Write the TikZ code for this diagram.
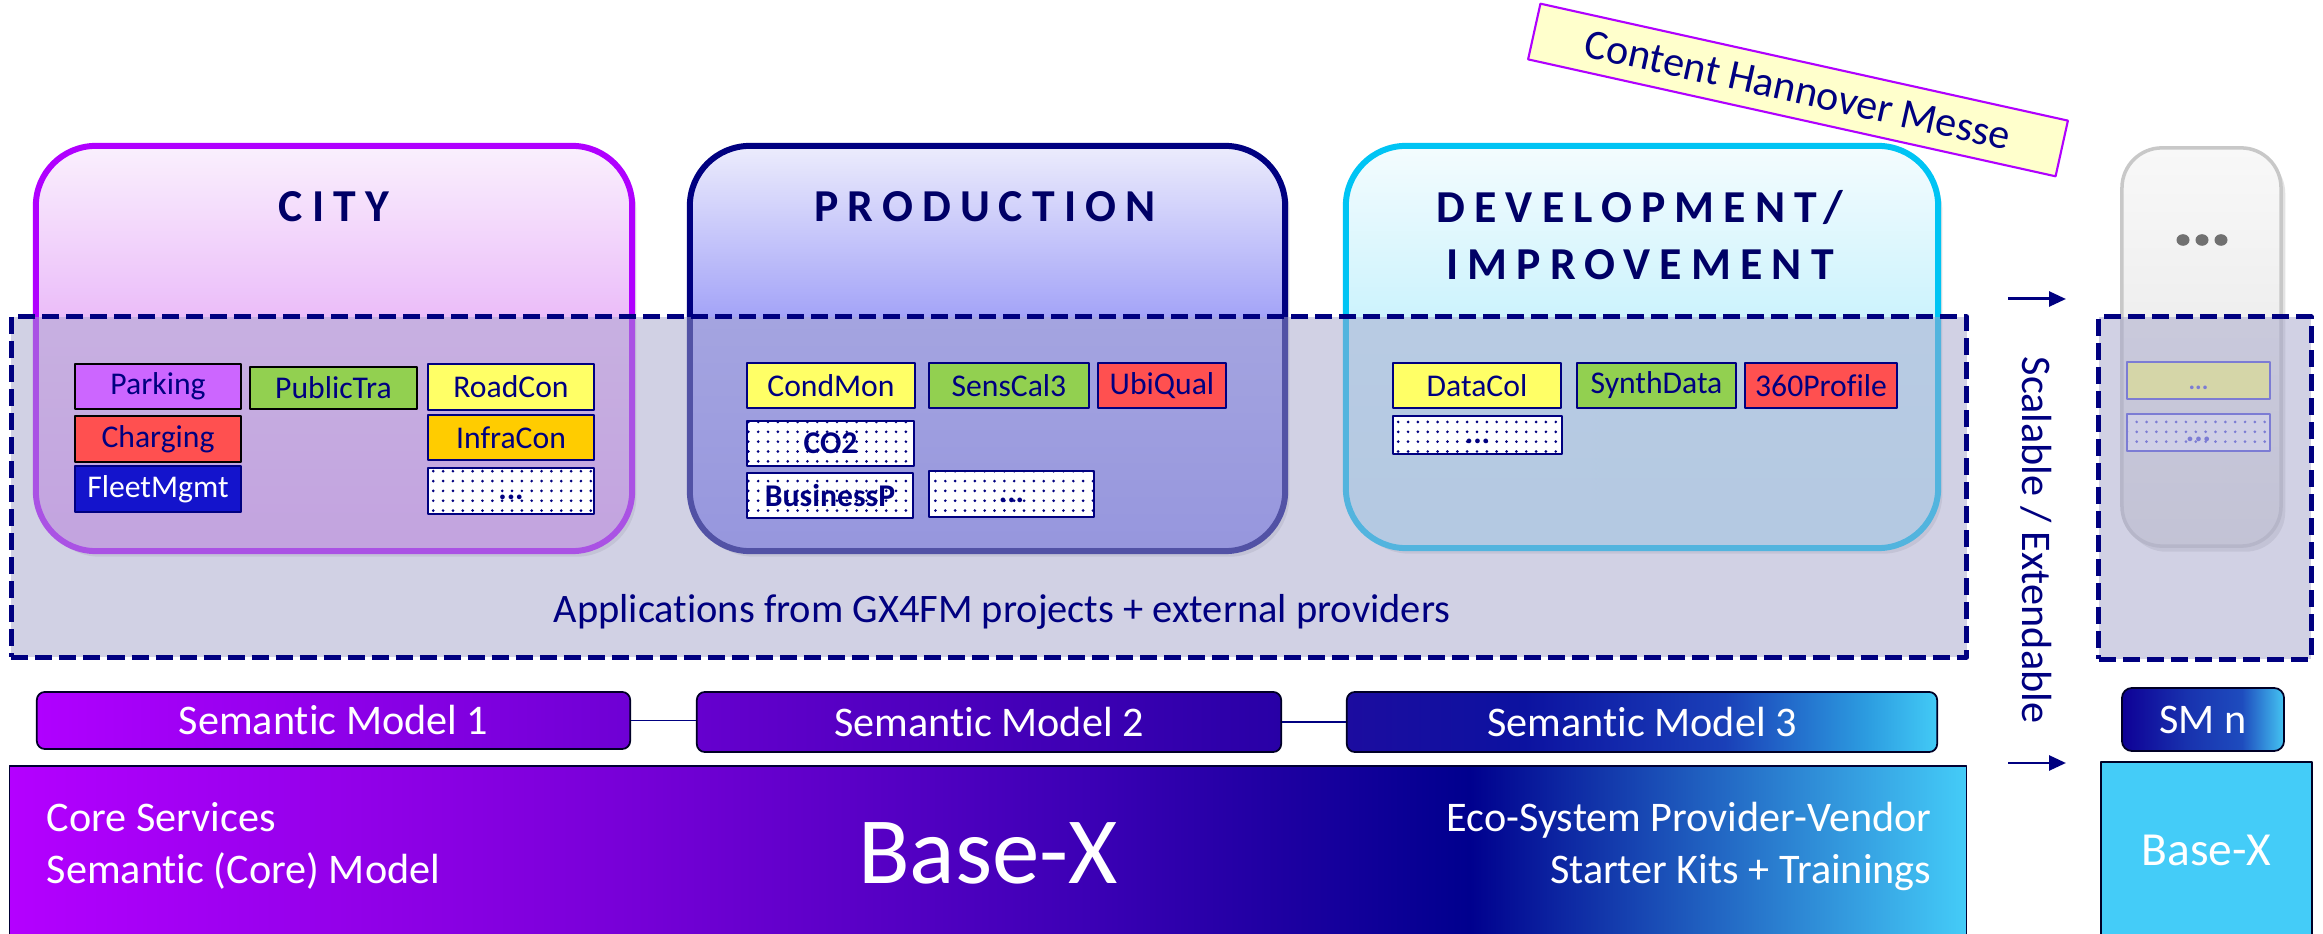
\documentclass[tikz,border=0pt]{standalone}
\usepackage{fontspec}
\setmainfont{Carlito}[Ligatures=NoCommon]
\newfontfamily\titlefont[LetterSpace=20,Ligatures=NoCommon]{Carlito}
\usetikzlibrary{arrows.meta,patterns.meta,shadows}
\definecolor{navy}{HTML}{000080}
\definecolor{titlenavy}{HTML}{000066}
\definecolor{citypurple}{HTML}{B000FF}
\definecolor{cityTop}{HTML}{FAF0FD}
\definecolor{cityMid}{HTML}{EBBDF9}
\definecolor{cityBot}{HTML}{E2A2F6}
\definecolor{prodTop}{HTML}{ECECFC}
\definecolor{prodMid}{HTML}{A4A4F8}
\definecolor{prodBot}{HTML}{8888F2}
\definecolor{devcyan}{HTML}{00C4F4}
\definecolor{devTop}{HTML}{F4FCFE}
\definecolor{devMid}{HTML}{CDF3FD}
\definecolor{devBot}{HTML}{C4EEFC}
\definecolor{greyTop}{HTML}{F8F8F8}
\definecolor{greyBot}{HTML}{E2E2E2}
\definecolor{greyline}{HTML}{C8C8C8}
\definecolor{dotgrey}{HTML}{707070}
\definecolor{overlay}{HTML}{A5A5CA}
\definecolor{appviolet}{HTML}{CC66FF}
\definecolor{appgreen}{HTML}{92D050}
\definecolor{appyellow}{HTML}{FFFF66}
\definecolor{appred}{HTML}{FF5050}
\definecolor{appamber}{HTML}{FFCC00}
\definecolor{appblue}{HTML}{1414CC}
\definecolor{fadeyellow}{HTML}{D5D6A8}
\definecolor{fadeblue}{HTML}{7C7CD4}
\definecolor{fadefill}{HTML}{D0D0E6}
\definecolor{hmyellow}{HTML}{FFFFCC}
\definecolor{bxlight}{HTML}{44CCF8}
\definecolor{bxA}{HTML}{B400FF}
\definecolor{bxB}{HTML}{7800D8}
\definecolor{bxC}{HTML}{3A00B4}
\definecolor{bxD}{HTML}{00008E}
\definecolor{smAL}{HTML}{B000FF}
\definecolor{smAR}{HTML}{6E00D4}
\definecolor{smBL}{HTML}{6600CE}
\definecolor{smBR}{HTML}{2800A6}
\definecolor{smCa}{HTML}{1C0CA0}
\definecolor{smCb}{HTML}{0C12A0}
\definecolor{smCc}{HTML}{1A40B8}
\definecolor{smCd}{HTML}{2C9CE0}
\definecolor{smCe}{HTML}{42CAF6}
\definecolor{smNa}{HTML}{0E0096}
\definecolor{smNb}{HTML}{1832AE}
\definecolor{smNc}{HTML}{1E4CBE}
\definecolor{smNd}{HTML}{44C4F2}
\pgfdeclareverticalshading{cityshade}{100bp}{color(0bp)=(cityBot); color(25bp)=(cityBot); color(54bp)=(cityMid); color(75bp)=(cityTop); color(100bp)=(cityTop)}
\pgfdeclareverticalshading{prodshade}{100bp}{color(0bp)=(prodBot); color(25bp)=(prodBot); color(54bp)=(prodMid); color(75bp)=(prodTop); color(100bp)=(prodTop)}
\pgfdeclareverticalshading{devshade}{100bp}{color(0bp)=(devBot); color(25bp)=(devBot); color(54bp)=(devMid); color(75bp)=(devTop); color(100bp)=(devTop)}
\pgfdeclarehorizontalshading{basexshade}{100bp}{color(0bp)=(bxA); color(25bp)=(bxA); color(40.6bp)=(bxB); color(52.9bp)=(bxC); color(62.3bp)=(bxD); color(75bp)=(bxlight); color(100bp)=(bxlight)}
\pgfdeclarehorizontalshading{smCshade}{100bp}{color(0bp)=(smCa); color(25bp)=(smCa); color(40bp)=(smCb); color(57bp)=(smCc); color(69bp)=(smCd); color(75bp)=(smCe); color(100bp)=(smCe)}
\pgfdeclarehorizontalshading{smNshade}{100bp}{color(0bp)=(smNa); color(25bp)=(smNa); color(45bp)=(smNb); color(62bp)=(smNc); color(75bp)=(smNd); color(100bp)=(smNd)}
\begin{document}
\begin{tikzpicture}[x=0.01cm,y=-0.01cm,line join=round,
	sector/.style={rounded corners=0.6cm,line width=1.7pt,inner sep=0pt,drop shadow={shadow xshift=1.2pt,shadow yshift=-1.6pt,opacity=0.22}},
	sectortitle/.style={font=\titlefont\bfseries\fontsize{13}{16}\selectfont,text=titlenavy,inner sep=0pt},
	appbox/.style={draw=navy,line width=0.6pt,inner sep=0pt,minimum height=0.45cm,text=navy,font=\fontsize{9}{10}\selectfont},
	dotbox/.style={appbox,preaction={fill=white},pattern={Dots[distance=2.8pt,radius=0.42pt]},pattern color=navy,font=\bfseries\fontsize{9}{10}\selectfont},
	dotsonly/.style={text height=5pt,text depth=0pt},
	dashbox/.style={draw=navy,line width=1.4pt,dash pattern=on 0.17cm off 0.07cm,fill=overlay,fill opacity=0.5,draw opacity=1,inner sep=0pt},
	smbox/.style={draw=black!70!navy,line width=0.5pt,rounded corners=0.08cm,inner sep=0pt,text=white,font=\fontsize{12}{14}\selectfont},
	bartext/.style={text=white,font=\fontsize{12}{14}\selectfont,inner sep=0pt},
	sidetext/.style={text=navy,font=\fontsize{12}{14}\selectfont,inner sep=0pt},
	scalearrow/.style={-{Triangle[length=4.8pt,width=4.2pt]},navy,line width=0.85pt}]
	\useasboundingbox (0,0) rectangle (2323,934);
	\fill[white] (0,0) rectangle (2323,934);
	\node[sector,shade,shading=cityshade,draw=citypurple,minimum width=5.96cm,minimum height=4.05cm] (city) at (334,348.5) {};
	\node[sector,shade,shading=prodshade,draw=navy,minimum width=5.95cm,minimum height=4.05cm] (prod) at (987.5,348.5) {};
	\node[sector,shade,shading=devshade,draw=devcyan,minimum width=5.92cm,minimum height=4.02cm] (dev) at (1642,347) {};
	\node[sector,rounded corners=0.4cm,line width=1pt,draw=greyline,top color=greyTop,bottom color=greyBot,minimum width=1.59cm,minimum height=3.98cm] (more) at (2201.5,347) {};
	\node[sectortitle] (citytitle) at (334,207) {CITY};
	\node[sectortitle] (prodtitle) at (985,207) {PRODUCTION};
	\node[sectortitle,align=center] (devtitle) at (1640,235) {DEVELOPMENT/\\IMPROVEMENT};
	\foreach \dx in {-19,0,19}
		\fill[dotgrey] (2202+\dx,240) ellipse (0.065cm and 0.058cm);
	\node[dashbox,minimum width=19.54cm,minimum height=3.40cm] (apps) at (989,487) {};
	\node[dashbox,minimum width=2.12cm,minimum height=3.42cm] (appsn) at (2205,488) {};
	\node[appbox,fill=appviolet,draw=black,minimum width=1.66cm] (parking) at (158,386.5) {Parking};
	\node[appbox,fill=appgreen,draw=black,minimum width=1.67cm,minimum height=0.42cm] (publictra) at (333.5,388) {PublicTra};
	\node[appbox,fill=appyellow,minimum width=1.66cm,minimum height=0.46cm] (roadcon) at (511,387) {RoadCon};
	\node[appbox,fill=appred,draw=black,minimum width=1.66cm,minimum height=0.46cm] (charging) at (158,439) {Charging};
	\node[appbox,fill=appamber,minimum width=1.66cm] (infracon) at (511,437.5) {InfraCon};
	\node[appbox,fill=appblue,text=white,minimum width=1.66cm,minimum height=0.46cm] (fleetmgmt) at (158,489) {FleetMgmt};
	\node[dotbox,dotsonly,minimum width=1.66cm,minimum height=0.46cm] (citymore) at (511,491) {...};
	\node[appbox,fill=appyellow,minimum width=1.68cm] (condmon) at (831,385.5) {CondMon};
	\node[appbox,fill=appgreen,minimum width=1.60cm] (senscal) at (1009,385.5) {SensCal3};
	\node[appbox,fill=appred,minimum width=1.28cm] (ubiqual) at (1162,385.5) {UbiQual};
	\node[dotbox,minimum width=1.67cm] (cotwo) at (830.5,443.5) {CO2};
	\node[dotbox,minimum width=1.66cm] (businessp) at (830,495.5) {BusinessP};
	\node[dotbox,dotsonly,minimum width=1.65cm,minimum height=0.46cm] (prodmore) at (1011.5,494) {...};
	\node[appbox,fill=appyellow,minimum width=1.68cm] (datacol) at (1477,385.5) {DataCol};
	\node[appbox,fill=appgreen,minimum width=1.59cm] (synthdata) at (1656.5,385.5) {SynthData};
	\node[appbox,fill=appred,minimum width=1.52cm] (profile) at (1821,385.5) {360Profile};
	\node[dotbox,dotsonly,minimum width=1.69cm,minimum height=0.38cm] (devmore) at (1477.5,435) {...};
	\node[appbox,fill=fadeyellow,draw=fadeblue,text=fadeblue,dotsonly,minimum width=1.43cm,minimum height=0.37cm,font=\bfseries\fontsize{7}{8}\selectfont] (morea) at (2198.5,380.5) {...};
	\node[dotbox,dotsonly,preaction={fill=fadefill},pattern color=fadeblue,draw=fadeblue,text=fadeblue,minimum width=1.43cm,minimum height=0.37cm] (moreb) at (2198.5,432.5) {...};
	\node[sidetext,font=\fontsize{11.5}{14}\selectfont] (appstext) at (1002,612) {Applications from GX4FM projects + external providers};
	\node[smbox,left color=smAL,right color=smAR,minimum width=5.93cm,minimum height=0.57cm] (sm1) at (333.5,720.5) {Semantic Model 1};
	\node[smbox,left color=smBL,right color=smBR,minimum width=5.84cm,minimum height=0.60cm] (sm2) at (989,722) {Semantic Model 2};
	\node[smbox,shade,shading=smCshade,minimum width=5.90cm,minimum height=0.60cm] (sm3) at (1642,722) {Semantic Model 3};
	\node[smbox,shade,shading=smNshade,rounded corners=0.1cm,minimum width=1.62cm,minimum height=0.63cm] (smn) at (2203,719.5) {SM n};
	\draw[navy,line width=0.4pt] (sm1.east) -- (sm1.east -| sm2.west);
	\draw[navy,line width=0.4pt] (sm2.east) -- (sm2.east -| sm3.west);
	\node[draw=black!60!navy,line width=0.5pt,shade,shading=basexshade,minimum width=19.56cm,minimum height=1.74cm,text=white,font=\fontsize{27}{30}\selectfont] (basex) at (988,853) {Base-X};
	\node[bartext,anchor=base west] (core) at (46,832) {Core Services};
	\node[bartext,anchor=base west] (semcore) at (46,884) {Semantic (Core) Model};
	\node[bartext,anchor=base east] (eco) at (1932,832) {Eco-System Provider-Vendor};
	\node[bartext,anchor=base east] (kits) at (1932,884) {Starter Kits + Trainings};
	\node[draw=black!70!navy,line width=0.6pt,fill=bxlight,minimum width=2.11cm,minimum height=1.76cm,text=white,font=\fontsize{13.5}{15}\selectfont] (basexn) at (2206.5,850) {Base-X};
	\coordinate (upfrom) at (2008,299);
	\coordinate (upto) at (2066,299);
	\coordinate (lowfrom) at (2008,763);
	\coordinate (lowto) at (2066,763);
	\draw[scalearrow] (upfrom) -- (upto);
	\draw[scalearrow] (lowfrom) -- (lowto);
	\node[sidetext,rotate=-90] (scalable) at (2036,540) {Scalable / Extendable};
	\node[draw=citypurple,line width=0.6pt,fill=hmyellow,rotate=-12.5,minimum width=5.4cm,minimum height=0.57cm,inner sep=0pt,text=navy,font=\fontsize{12}{14}\selectfont] (hannover) at (1798,90) {Content Hannover Messe};
\end{tikzpicture}
\end{document}
